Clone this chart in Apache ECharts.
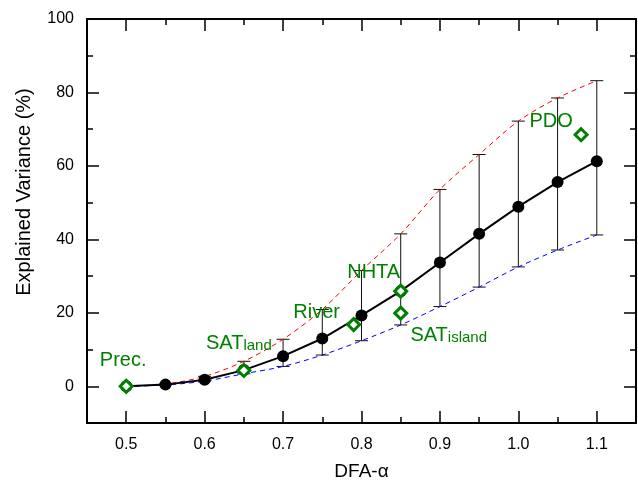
<!DOCTYPE html>
<html><head><meta charset="utf-8">
<script src="https://cdn.jsdelivr.net/npm/echarts@6/dist/echarts.min.js"></script>
<style>html,body{margin:0;padding:0;background:#fff}#c{width:638px;height:480px}</style>
</head><body><div id="c"></div>
<script>
const alphaVals = [0.5, 0.55, 0.6, 0.65, 0.7, 0.75, 0.8, 0.85, 0.9, 0.95, 1.0, 1.05, 1.1];
const meanVals  = [0, 0.45, 1.8, 4.4, 8.2, 13.0, 19.3, 25.9, 33.7, 41.5, 48.9, 55.6, 61.3];
const upperVals = [0, 0.6, 2.7, 6.8, 12.8, 20.9, 31.5, 41.5, 53.6, 63.1, 72.2, 78.5, 83.2];
const lowerVals = [0, 0.35, 1.4, 3.4, 5.4, 8.5, 12.4, 16.7, 21.7, 27.0, 32.5, 37.1, 41.2];

const obsNames = ['Prec.', 'SATland', 'River', 'NHTA', 'SATisland', 'PDO'];
const obsAlpha = [0.5, 0.65, 0.79, 0.85, 0.85, 1.08];
const obsVar   = [0, 4.3, 16.8, 25.9, 19.9, 68.5];
const obsLabels = ['Prec.', '{m|SAT}{s|land}', 'River', 'NHTA', '{m|SAT}{s|island}', 'PDO'];
const obsOffsets = [[-3,-26],[-5,-28],[-37,-12],[-27,-19],[48,21],[-30,-13]];

const xTicks = [0.5, 0.6, 0.7, 0.8, 0.9, 1.0, 1.1];
const yTicks = [0, 20, 40, 60, 80, 100];

const green = '#008000';
const font = 'Liberation Sans, Arial, sans-serif';

const chart = echarts.init(document.getElementById('c'), null, {renderer:'canvas'});

// base axis: frame line + short ticks at every minor step, optional labels at major values
function baseAxis(pos, min, max, step, labelVals, fmt) {
  return {
    type: 'value', gridIndex: 0, position: pos, min: min, max: max, interval: step,
    axisLine: {show: true, onZero: false, lineStyle: {color: '#000', width: 2}},
    axisTick: {show: true, inside: true, length: 6, lineStyle: {color: '#000', width: 1.5}},
    splitLine: {show: false},
    axisLabel: labelVals ? {show: true, fontSize: 16, color: '#000', fontFamily: font,
      customValues: labelVals, formatter: fmt} : {show: false}
  };
}
// overlay axis (second grid, same rect): long ticks at major values only
function majorAxis(pos, min, max, step, vals) {
  return {
    type: 'value', gridIndex: 1, position: pos, min: min, max: max, interval: step,
    axisLine: {show: false, onZero: false},
    axisTick: {show: true, inside: true, length: 12, customValues: vals, lineStyle: {color: '#000', width: 1.5}},
    splitLine: {show: false},
    axisLabel: {show: false}
  };
}

const xb = baseAxis('bottom', 0.45, 1.15, 0.05, xTicks, v => v.toFixed(1));
Object.assign(xb, {name: 'DFA-α', nameLocation: 'middle', nameGap: 39,
  nameTextStyle: {fontSize: 19, color: '#000', fontFamily: font}});
xb.axisLabel.margin = 14;
const xt = baseAxis('top', 0.45, 1.15, 0.05, null);
const xbm = majorAxis('bottom', 0.45, 1.15, 0.05, xTicks);
const xtm = majorAxis('top', 0.45, 1.15, 0.05, xTicks);

const yl = baseAxis('left', -10, 100, 10, yTicks, v => String(v));
Object.assign(yl, {name: 'Explained Variance (%)', nameLocation: 'middle', nameGap: 53,
  nameTextStyle: {fontSize: 20, color: '#000', fontFamily: font, padding: [0, 0, 0, 58]}});
yl.axisLabel.margin = 13;
const yr = baseAxis('right', -10, 100, 10, null);
const ylm = majorAxis('left', -10, 100, 10, yTicks);
const yrm = majorAxis('right', -10, 100, 10, yTicks);

const pairs = arr => alphaVals.map((a, i) => [a, arr[i]]);
const errData = alphaVals.map((a, i) => [a, lowerVals[i], upperVals[i]]).slice(1);

const gridRect = {left: 87, right: 2, top: 19, bottom: 57, containLabel: false, outerBoundsMode: 'none'};

chart.setOption({
  animation: false,
  backgroundColor: '#fff',
  textStyle: {fontFamily: font},
  grid: [Object.assign({}, gridRect), Object.assign({}, gridRect)],
  xAxis: [xb, xt, xbm, xtm],
  yAxis: [yl, yr, ylm, yrm],
  series: [
    {
      type: 'custom', xAxisIndex: 0, yAxisIndex: 0, z: 2,
      data: errData,
      renderItem: (params, api) => {
        const x = api.value(0);
        const lo = api.coord([x, api.value(1)]);
        const hi = api.coord([x, api.value(2)]);
        const w = 6.5;
        const st = {stroke: '#111', lineWidth: 1};
        return {type: 'group', children: [
          {type: 'line', shape: {x1: lo[0], y1: lo[1], x2: hi[0], y2: hi[1]}, style: st},
          {type: 'line', shape: {x1: lo[0]-w, y1: lo[1], x2: lo[0]+w, y2: lo[1]}, style: st},
          {type: 'line', shape: {x1: hi[0]-w, y1: hi[1], x2: hi[0]+w, y2: hi[1]}, style: st}
        ]};
      }
    },
    {type: 'line', xAxisIndex: 0, yAxisIndex: 0, data: pairs(upperVals), symbol: 'none', smooth: 0.3, z: 3,
     lineStyle: {color: '#ff0000', width: 1, type: [5, 4]}},
    {type: 'line', xAxisIndex: 0, yAxisIndex: 0, data: pairs(lowerVals), symbol: 'none', smooth: 0.3, z: 3,
     lineStyle: {color: '#0000ff', width: 1, type: [5, 4]}},
    {type: 'line', xAxisIndex: 0, yAxisIndex: 0, data: pairs(meanVals), symbol: 'circle', symbolSize: 12, z: 4,
     lineStyle: {color: '#000', width: 2}, itemStyle: {color: '#000'}},
    {type: 'scatter', xAxisIndex: 0, yAxisIndex: 0, z: 5, symbol: 'diamond', symbolSize: 12,
     itemStyle: {color: '#fff', borderColor: green, borderWidth: 3, opacity: 1},
     data: obsNames.map((n, i) => ({name: n, value: [obsAlpha[i], obsVar[i]],
        label: {show: true, position: 'inside', offset: obsOffsets[i], formatter: obsLabels[i]}})),
     label: {color: green, fontSize: 20, fontFamily: font,
       rich: {m: {fontSize: 20, color: green, fontFamily: font, verticalAlign: 'bottom', lineHeight: 22},
              s: {fontSize: 15, color: green, fontFamily: font, verticalAlign: 'bottom', lineHeight: 18}}}
    }
  ]
});
</script></body></html>
